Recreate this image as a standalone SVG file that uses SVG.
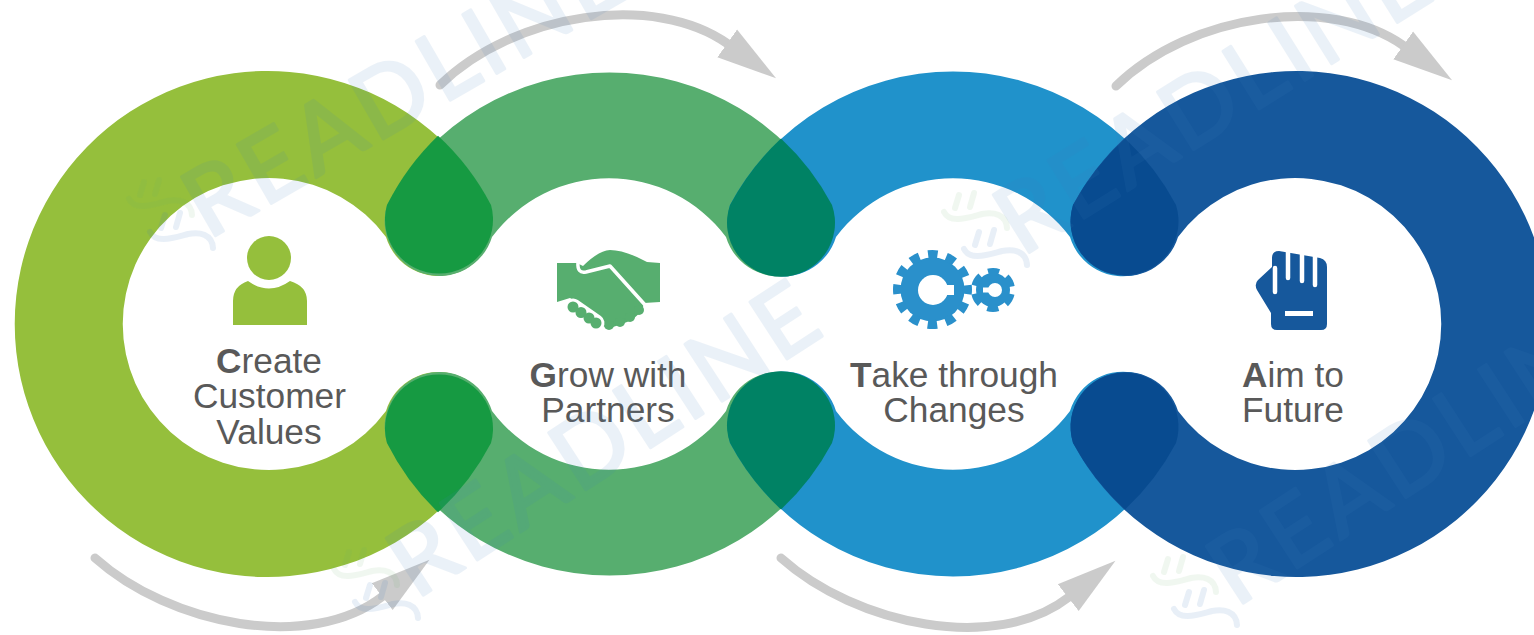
<svg xmlns="http://www.w3.org/2000/svg" width="1534" height="635" viewBox="0 0 1534 635">
<style>
.label{font-family:"Liberation Sans",Arial,sans-serif;font-size:35.3px;fill:#595959;text-anchor:middle}
.label tspan.b{font-weight:bold}
.arc{fill:none;stroke:#cbcbcb;stroke-width:9;stroke-linecap:round}
.mark{font-family:Lato,"Open Sans",sans-serif;font-size:95px;letter-spacing:5px;fill:#3f7fbf;stroke:#3f7fbf;stroke-width:3;stroke-linejoin:round;opacity:.1}
.swb{fill:none;stroke:#3f7fbf;stroke-opacity:.12;stroke-width:6;stroke-linecap:round}
.swg{fill:none;stroke:#6fae6a;stroke-opacity:.1;stroke-width:6;stroke-linecap:round}
.hole{fill:#fff}
</style>
<defs>
<marker id="head" markerUnits="userSpaceOnUse" markerWidth="62" markerHeight="42" refX="1" refY="21" orient="auto">
<polygon points="0,4 60,21 0,38" fill="#cbcbcb"/>
</marker>
<path id="band2" d="M387,205A253,253 0 0 1 832,205A54,54 0 1 1 726,237A146,146 0 0 0 492,237A54,54 0 1 1 387,205Z"/>
<path id="band3" d="M730,205A253,253 0 0 1 1176,205A54,54 0 1 1 1070,237A146,146 0 0 0 836,237A54,54 0 1 1 730,205Z"/>
<path id="drop1" d="M438,135.7A253,253 0 0 1 491,205A54,54 0 1 1 387,205A253,253 0 0 1 438,135.7Z"/>
<path id="drop2" d="M781,138.5A253,253 0 0 1 832,205A54,54 0 1 1 730,205A253,253 0 0 1 781,138.5Z"/>
<path id="drop3" d="M1125,138.5A253,253 0 0 1 1176,205A54,54 0 1 1 1073,205A253,253 0 0 1 1125,138.5Z"/>
<g id="swirl">
<path d="M2,22C8,34 25,28 40,24C52,22 64,24 65,38"/>
<path d="M17,5L13,18M32,3L28,17"/>
</g>
</defs>
<rect width="1534" height="635" fill="#fff"/>

<g id="connectors">
<path class="arc" marker-end="url(#head)" d="M95,558C170,625 310,653 383,596"/>
<path class="arc" marker-end="url(#head)" d="M781,558C856,625 996,654 1069,597"/>
<path class="arc" marker-end="url(#head)" d="M440,85C515,12 655,-8 728,44"/>
<path class="arc" marker-end="url(#head)" d="M1116,86C1191,13 1331,-6 1404,46"/>
</g>

<g id="node-create">
<path fill="#95bf3c" d="M491,205A253,253 0 1 0 491,443A54,54 0 1 0 386,411A146,146 0 1 1 386,237A54,54 0 1 0 491,205Z"/>
<g fill="#95bf3c">
<circle cx="269" cy="258" r="22"/>
<path d="M233,325L233,301Q233,286 248,281Q269,296 290,281Q307,286 307,301L307,325Z"/>
</g>
<text class="label" x="269" y="373"><tspan class="b">C</tspan>reate</text>
<text class="label" x="269.500" y="408">Customer</text>
<text class="label" x="269" y="444">Values</text>
</g>

<g id="node-grow">
<use href="#band2" fill="#57ae6f"/>
<use href="#band2" fill="#57ae6f" transform="matrix(1 0 0 -1 0 648)"/>
<g id="handshake">
<path fill="#57ae6f" d="M557,263L577,263L583,266Q598,251 610,250Q625,250 647,262L660,263L660,302L644,303L642,311L632,320L622,324L610,328L603,326L594,312L570,298L557,302Z"/>
<circle cx="639" cy="310" r="5" fill="#57ae6f"/>
<circle cx="630" cy="317" r="5" fill="#57ae6f"/>
<circle cx="620" cy="322" r="5" fill="#57ae6f"/>
<circle cx="609" cy="325" r="5" fill="#57ae6f"/>
<path fill="none" stroke="#fff" stroke-width="3.500" stroke-linejoin="round" d="M578,262Q577,274 586,272L610,266L646,306"/>
<path fill="none" stroke="#fff" stroke-width="17" stroke-linecap="round" d="M573,307L596,323"/>
<g fill="#57ae6f">
<circle cx="573" cy="307" r="5.500"/>
<circle cx="581" cy="312.500" r="5.500"/>
<circle cx="589" cy="318" r="5.500"/>
<circle cx="596" cy="323" r="5.500"/>
</g>
</g>
<text class="label" x="608" y="387"><tspan class="b">G</tspan>row with</text>
<text class="label" x="608" y="422">Partners</text>
</g>

<g id="node-take">
<use href="#band3" fill="#2092cb"/>
<use href="#band3" fill="#2092cb" transform="matrix(1 0 0 -1 0 648)"/>
<g id="gears">
<circle cx="932.500" cy="289.500" r="32" fill="#2a90cb"/>
<circle cx="932.500" cy="289.500" r="35" fill="none" stroke="#2a90cb" stroke-width="9" stroke-dasharray="9.500 8.830" stroke-dashoffset="4.750"/>
<circle class="hole" cx="933" cy="290" r="15"/>
<rect class="hole" x="940" y="285" width="14" height="10"/>
<circle cx="993" cy="290" r="17" fill="#2a90cb"/>
<circle cx="993" cy="290" r="18.500" fill="none" stroke="#2a90cb" stroke-width="7" stroke-dasharray="11 8.370" stroke-dashoffset="-4.180"/>
<circle class="hole" cx="995" cy="290" r="7"/>
<rect class="hole" x="983" y="287.500" width="8" height="5"/>
</g>
<text class="label" x="954" y="387"><tspan class="b">T</tspan>ake through</text>
<text class="label" x="954" y="422">Changes</text>
</g>

<g id="node-aim">
<path fill="#16589c" d="M1073,205A253,253 0 1 1 1073,443A54,54 0 1 1 1178,411A146,146 0 1 0 1178,237A54,54 0 1 1 1073,205Z"/>
<g id="fist">
<path fill="#16589c" d="M1272,258Q1272,251 1279,251L1320,258Q1327,260 1327,267L1327,324Q1327,330 1321,330L1277,330Q1271,330 1271,324L1271,313L1257,290Q1254,284 1258,280L1272,267Z"/>
<path fill="none" stroke="#fff" stroke-width="4.500" stroke-linecap="round" d="M1275,268V292M1288,248V278M1302,252V281M1315,254V285"/>
<rect class="hole" x="1285" y="311" width="28" height="5"/>
</g>
<text class="label" x="1293" y="387"><tspan class="b">A</tspan>im to</text>
<text class="label" x="1293" y="422">Future</text>
</g>

<g id="overlaps">
<use href="#drop1" fill="#169a42"/>
<use href="#drop1" fill="#169a42" transform="matrix(1 0 0 -1 0 648)"/>
<use href="#drop2" fill="#008264"/>
<use href="#drop2" fill="#008264" transform="matrix(1 0 0 -1 0 648)"/>
<use href="#drop3" fill="#084b90"/>
<use href="#drop3" fill="#084b90" transform="matrix(1 0 0 -1 0 648)"/>
</g>

<g id="watermark">
<text class="mark" transform="translate(208,240) rotate(-30)">READLINE</text>
<text class="mark" transform="translate(1022,257) rotate(-32)">READLINE</text>
<text class="mark" transform="translate(416,600) rotate(-33)">READLINE</text>
<text class="mark" transform="translate(1236,608) rotate(-33)">READLINE</text>
<use href="#swirl" class="swb" x="148" y="210"/>
<use href="#swirl" class="swg" x="127" y="177"/>
<use href="#swirl" class="swb" x="962" y="227"/>
<use href="#swirl" class="swg" x="942" y="190"/>
<use href="#swirl" class="swb" x="353" y="580"/>
<use href="#swirl" class="swg" x="332" y="547"/>
<use href="#swirl" class="swb" x="1172" y="587"/>
<use href="#swirl" class="swg" x="1151" y="554"/>
</g>
</svg>
